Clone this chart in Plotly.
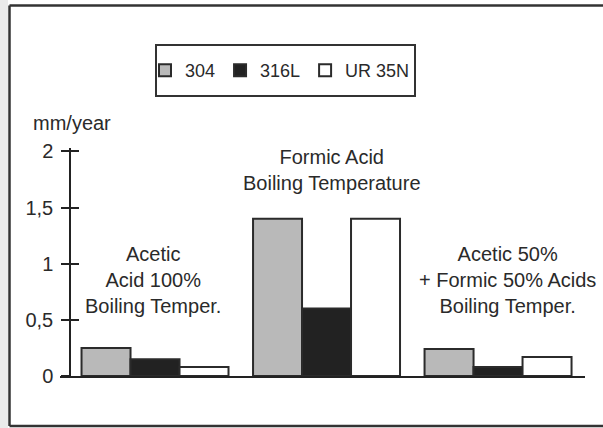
import plotly.graph_objects as go

# ---- data ----
categories = ["Acetic Acid 100%", "Formic Acid", "Acetic 50% + Formic 50%"]
category_labels = [
    "Acetic<br>Acid 100%<br>Boiling Temper.",
    "Formic Acid<br>Boiling Temperature",
    "Acetic 50%<br>+ Formic 50% Acids<br>Boiling Temper.",
]
series_names = ["304", "316L", "UR 35N"]
values_304 = [0.25, 1.4, 0.24]
values_316L = [0.15, 0.6, 0.08]
values_UR35N = [0.08, 1.4, 0.17]
y_tick_values = [0, 0.5, 1, 1.5, 2]

series_values = [values_304, values_316L, values_UR35N]
series_colors = ["#b9b9b9", "#222222", "#ffffff"]

FONT = "Liberation Sans, Arial, Helvetica, sans-serif"
TXT = "#2a2a2a"

W, H = 603, 428
ML, MR, MT, MB = 60, 18, 148, 52
PW, PH = W - ML - MR, H - MT - MB


def px_x(p):
    return (p - ML) / PW


def px_y(p):
    return (H - MB - p) / PH


fig = go.Figure()
for name, vals, col in zip(series_names, series_values, series_colors):
    fig.add_trace(go.Bar(
        x=categories, y=vals, name=name,
        marker=dict(color=col, line=dict(color="#2b2b2b", width=2)),
    ))

# y-axis second overlay for ticks crossing the axis line
fig.add_trace(go.Scatter(x=[categories[0]], y=[0], yaxis="y2", mode="markers",
                         marker=dict(opacity=0), showlegend=False, hoverinfo="skip"))

annotations = []
shifts = [(-2, 0.855), (5, 1.834), (9, 0.855)]
for cat, lab, (dx, yv) in zip(categories, category_labels, shifts):
    annotations.append(dict(
        x=cat, y=yv, xref="x", yref="y", text=lab, showarrow=False,
        xshift=dx, xanchor="center", yanchor="middle",
        font=dict(size=20, color=TXT, family=FONT),
    ))
annotations.append(dict(
    x=px_x(31), y=px_y(123), xref="paper", yref="paper", text="mm/year",
    showarrow=False, xanchor="left", yanchor="middle",
    font=dict(size=20, color=TXT, family=FONT),
))

frame_line = dict(color="#333333", width=2.5)
shapes = [
    # light gray strip on the left
    dict(type="rect", xref="paper", yref="paper", x0=px_x(0), x1=px_x(8),
         y0=px_y(H), y1=px_y(0), fillcolor="#ebebeb", line=dict(width=0), layer="below"),
    # outer frame (left, top, bottom; right edge is outside the picture)
    dict(type="line", xref="paper", yref="paper", x0=px_x(9.5), x1=px_x(9.5),
         y0=px_y(426), y1=px_y(5.5), line=frame_line),
    dict(type="line", xref="paper", yref="paper", x0=px_x(9.5), x1=px_x(W),
         y0=px_y(5.5), y1=px_y(5.5), line=frame_line),
    dict(type="line", xref="paper", yref="paper", x0=px_x(9.5), x1=px_x(W),
         y0=px_y(426), y1=px_y(426), line=frame_line),
    # legend frame
    dict(type="rect", xref="paper", yref="paper", x0=px_x(156), x1=px_x(415),
         y0=px_y(96), y1=px_y(45), line=dict(color="#333333", width=2),
         fillcolor="rgba(0,0,0,0)"),
]

yrange = [0, 2.03]
fig.update_layout(
    width=W, height=H,
    margin=dict(l=ML, r=MR, t=MT, b=MB, pad=0),
    paper_bgcolor="white", plot_bgcolor="white",
    separators=",.",
    barmode="group", bargap=0.143, bargroupgap=0,
    font=dict(family=FONT, color=TXT, size=20),
    showlegend=True,
    legend=dict(
        orientation="h", x=px_x(280), xanchor="center",
        y=px_y(70.5), yanchor="middle",
        font=dict(size=18, color=TXT, family=FONT),
        bgcolor="rgba(0,0,0,0)", borderwidth=0,
    ),
    xaxis=dict(
        domain=[0, 1], range=[-0.554, 2.507], type="category",
        categoryorder="array", categoryarray=categories,
        showticklabels=False, ticks="", showgrid=False, zeroline=False,
        showline=True, linecolor="#222222", linewidth=1.5,
    ),
    yaxis=dict(
        range=yrange, anchor="free", position=px_x(70), side="left",
        tickvals=y_tick_values, ticks="outside", ticklen=8, tickwidth=1.5,
        tickcolor="#222222", showline=True, linecolor="#222222", linewidth=1.5,
        showgrid=False, zeroline=False, ticklabelstandoff=4,
        tickfont=dict(size=20, color=TXT, family=FONT),
    ),
    yaxis2=dict(
        range=yrange, overlaying="y", anchor="free", position=px_x(70), side="left",
        tickvals=y_tick_values, ticks="inside", ticklen=8, tickwidth=1.5,
        tickcolor="#222222", showline=False, showgrid=False, zeroline=False,
        showticklabels=False,
    ),
    annotations=annotations,
    shapes=shapes,
)

fig.write_html("out.html", config={"displayModeBar": False},
               post_script="document.body.style.margin='0';document.body.style.padding='0';")
